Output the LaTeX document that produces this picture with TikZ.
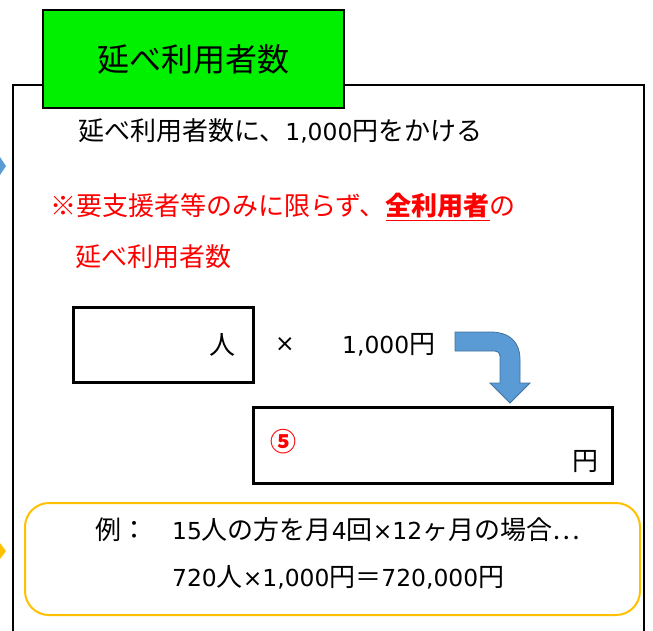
\documentclass[tikz,border=0pt]{standalone}
\usepackage{fontspec}
\setmainfont{Noto Sans CJK JP}
\newfontfamily\lat[Scale=0.9]{DejaVu Sans}
\newcommand{\lt}[1]{{\lat #1}}
\definecolor{tgreen}{RGB}{0,240,0}
\definecolor{tred}{RGB}{255,0,0}
\definecolor{tgold}{RGB}{255,192,0}
\definecolor{tblue}{RGB}{91,155,213}
\definecolor{tbluedark}{RGB}{65,113,156}
\tikzset{
  txt/.style={inner sep=0pt, anchor=west, font=\fontsize{26}{30}\selectfont},
  redtxt/.style={txt, text=tred},
  valbox/.style={draw=black, line width=3pt},
}
\begin{document}
\begin{tikzpicture}[x=1pt,y=-1pt]
\useasboundingbox (0,0) rectangle (653,630);
% left edge fragments
\fill[tblue] (0,157) -- (6,166) -- (0,175) -- cycle;
\fill[tgold] (0,543) -- (6,551) -- (0,559) -- cycle;
% main frame
\draw[line width=2pt] (13,640) -- (13,85) -- (644,85) -- (644,640);
% title box
\node[draw=black, line width=1.5pt, fill=tgreen, minimum width=301pt, minimum height=98pt, inner sep=0pt,
      font=\fontsize{32}{36}\selectfont] (title) at (193.5,59) {延べ利用者数};
% texts
\node[txt] (l1) at (78,131) {延べ利用者数に、\lt{1,000}円をかける};
\node[redtxt] (l2) at (50,207) {※要支援者等のみに限らず、{\bfseries\underline{全利用者}}の};
\node[redtxt] (l3) at (75,257) {延べ利用者数};
% value boxes
\draw[valbox] (73,307) rectangle (253,382);
\node[txt] (nin) at (209,345) {人};
\node[txt] (times) at (275,345) {\lt{×}};
\node[txt] (yen1000) at (342,345) {\lt{1,000}円};
\draw[valbox] (253,407) rectangle (612,483);
\node[txt, text=tred, font=\bfseries\fontsize{26}{30}\selectfont] (five) at (270,442) {⑤};
\node[txt] (yen) at (572,462) {円};
% bent arrow
\draw[fill=tblue, draw=tbluedark, line width=0.8pt]
  (455,332) -- (490,332) .. controls (510,332) and (520,342) .. (520,360)
  -- (520,383) -- (530,383) -- (510,403) -- (490,383) -- (500,383) -- (500,356)
  .. controls (500,353) and (498,351) .. (495,351) -- (455,351) -- cycle;
% example box
\draw[tgold, line width=2pt, rounded corners=24pt] (25,503) rectangle (640,615);
\node[txt] (rei) at (95,530) {例：};
\node[txt] (ex1) at (172,530) {\lt{15}人の方を月\lt{4}回\lt{×12}ヶ月の場合…};
\node[txt] (ex2) at (172,577) {\lt{720}人\lt{×1,000}円＝\lt{720,000}円};
\end{tikzpicture}
\end{document}
